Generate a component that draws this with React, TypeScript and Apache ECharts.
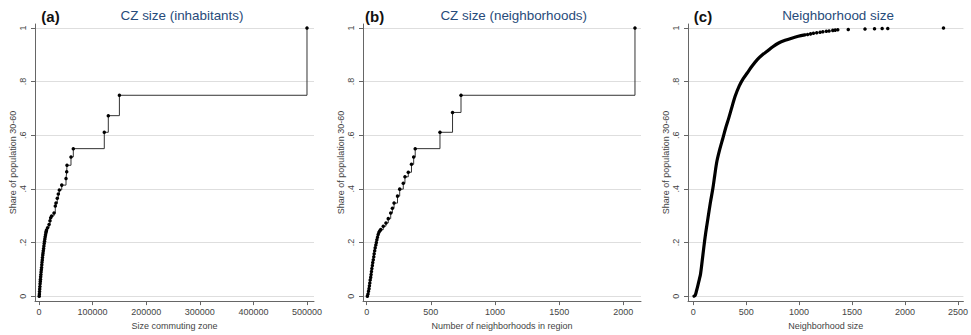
import React, { useEffect, useRef } from 'react';
import * as echarts from 'echarts';

// ---- tick labels ----
const yTicks = [0, 0.2, 0.4, 0.6, 0.8, 1];
const xTicksA = [0, 100000, 200000, 300000, 400000, 500000];
const xTicksB = [0, 500, 1000, 1500, 2000];
const xTicksC = [0, 500, 1000, 1500, 2000, 2500];

// ---- texts ----
const panelTags = ['(a)', '(b)', '(c)'];
const titles = ['CZ size (inhabitants)', 'CZ size (neighborhoods)', 'Neighborhood size'];
const xNames = ['Size commuting zone', 'Number of neighborhoods in region', 'Neighborhood size'];
const yName = 'Share of population 30-60';

// ---- (a) CZ size in inhabitants vs cumulative share ----
const czInhabitants: [number, number][] = [
  [400, 0.0], [700, 0.008], [1000, 0.017], [1300, 0.027], [1700, 0.036], [2000, 0.046],
  [2400, 0.055], [2700, 0.063], [3100, 0.072], [3500, 0.081], [3900, 0.09], [4300, 0.098],
  [4800, 0.107], [5200, 0.117], [5600, 0.126], [6100, 0.135], [6500, 0.144], [7000, 0.153],
  [7500, 0.161], [8000, 0.169], [8600, 0.178], [9100, 0.187], [9700, 0.196], [10300, 0.205],
  [10900, 0.213], [11500, 0.221], [12200, 0.229], [12900, 0.236], [13500, 0.242], [14000, 0.247],
  [16000, 0.255], [18700, 0.267], [20500, 0.281], [21800, 0.292], [23500, 0.299], [28000, 0.31],
  [30400, 0.336], [31700, 0.347], [34100, 0.365], [36000, 0.381], [37900, 0.396], [42400, 0.414],
  [50400, 0.439], [51700, 0.464], [52200, 0.488], [59700, 0.519], [64000, 0.55],
  [121800, 0.611], [129300, 0.673], [150000, 0.749], [500000, 1.0],
];

// ---- (b) CZ size in neighborhoods vs cumulative share ----
const czNeighborhoods: [number, number][] = [
  [5, 0.0], [10, 0.008], [14, 0.018], [18, 0.028], [21, 0.039], [24, 0.049], [27, 0.06],
  [31, 0.07], [34, 0.081], [37, 0.092], [40, 0.103], [44, 0.114], [47, 0.125], [51, 0.136],
  [55, 0.147], [58, 0.158], [62, 0.169], [66, 0.18], [71, 0.191], [75, 0.2], [79, 0.21],
  [84, 0.22], [89, 0.23], [95, 0.238], [102, 0.244], [109, 0.248],
  [129, 0.261], [150, 0.273], [168, 0.289], [187, 0.31], [200, 0.328], [213, 0.347],
  [240, 0.373], [257, 0.399], [285, 0.421], [298, 0.445], [324, 0.462], [349, 0.492],
  [366, 0.519], [378, 0.55], [571, 0.611], [669, 0.685], [735, 0.749], [2091, 1.0],
];

// ---- (c) neighborhood size vs cumulative share ----
const nbhdCurve: [number, number][] = [
  [8, 0.0], [20, 0.004], [32, 0.021], [45, 0.041], [57, 0.061], [69, 0.082], [84, 0.128],
  [100, 0.181], [119, 0.238], [140, 0.292], [162, 0.348], [186, 0.402], [204, 0.452],
  [223, 0.501], [250, 0.546], [279, 0.587], [306, 0.626], [335, 0.663], [362, 0.7],
  [396, 0.745], [434, 0.783], [471, 0.81], [512, 0.833], [558, 0.859], [605, 0.882],
  [651, 0.899], [698, 0.913], [752, 0.93], [807, 0.944], [868, 0.954], [930, 0.962],
  [992, 0.969], [1055, 0.974],
];
const nbhdDots: [number, number][] = [
  [1080, 0.976], [1108, 0.978], [1135, 0.98], [1166, 0.982], [1198, 0.984], [1224, 0.986],
  [1257, 0.988], [1283, 0.989], [1318, 0.991], [1341, 0.992], [1365, 0.993], [1464, 0.994],
  [1622, 0.996], [1712, 0.997], [1784, 0.998], [1837, 0.998], [2363, 1.0],
];

const FONT = '"Liberation Sans", Arial, Helvetica, sans-serif';
const AXIS_COLOR = '#666';
const TEXT_COLOR = '#444';
const TITLE_COLOR = '#274b7a';
const GRID_COLOR = '#dedede';

const grids = [
  { left: 35, top: 24, width: 279, height: 280 },
  { left: 363, top: 24, width: 278, height: 280 },
  { left: 688, top: 24, width: 280, height: 280 },
];
const xRanges: [number, number][] = [[-7463, 513060], [-29, 2138], [-49, 2551]];
const xTickSets = [xTicksA, xTicksB, xTicksC];
const tagX = [50.5, 374.7, 703];
const titleX = [182, 513.7, 838];

const fmtY = (v: number) => {
  if (v === 0) return '0';
  if (v === 1) return '1';
  return String(Math.round(v * 10) / 10).replace(/^0\./, '.');
};

export default function App() {
  const ref = useRef<HTMLDivElement>(null);
  useEffect(() => {
    if (!ref.current) return;
    const chart = echarts.init(ref.current, undefined, { renderer: 'svg' });

    const xAxis = grids.map((_, i) => ({
      type: 'value',
      gridIndex: i,
      min: xRanges[i][0],
      max: xRanges[i][1],
      name: xNames[i],
      nameLocation: 'middle',
      nameGap: 16,
      nameTextStyle: { fontFamily: FONT, fontSize: 9, color: TEXT_COLOR },
      axisLine: { show: true, onZero: false, lineStyle: { color: AXIS_COLOR, width: 1 } },
      axisTick: { show: true, length: 4, customValues: xTickSets[i], lineStyle: { color: AXIS_COLOR } },
      axisLabel: {
        customValues: xTickSets[i],
        formatter: (v: number) => String(v),
        fontFamily: FONT,
        fontSize: 9,
        color: TEXT_COLOR,
        margin: 6,
      },
      splitLine: { show: false },
    }));

    const yAxis = grids.map((_, i) => ({
      type: 'value',
      gridIndex: i,
      min: -0.0185,
      max: 1.0148,
      name: yName,
      nameLocation: 'middle',
      nameGap: 17.5,
      nameTextStyle: { fontFamily: FONT, fontSize: 9, color: TEXT_COLOR },
      axisLine: { show: true, onZero: false, lineStyle: { color: AXIS_COLOR, width: 1 } },
      axisTick: { show: true, length: 4, customValues: yTicks, lineStyle: { color: AXIS_COLOR } },
      axisLabel: {
        customValues: yTicks,
        formatter: fmtY,
        rotate: 90,
        fontFamily: FONT,
        fontSize: 9,
        color: TEXT_COLOR,
        margin: 8,
      },
      splitLine: { show: true, lineStyle: { color: GRID_COLOR, width: 1, type: 'solid', opacity: 1 } },
    }));

    const stepSeries = (i: number, data: [number, number][]) => ({
      type: 'line',
      xAxisIndex: i,
      yAxisIndex: i,
      data,
      step: 'end',
      z: 3,
      symbol: 'circle',
      symbolSize: 3.5,
      showSymbol: true,
      showAllSymbol: true,
      lineStyle: { color: '#333', width: 1 },
      itemStyle: { color: '#000' },
    });

    const option = {
      animation: false,
      backgroundColor: '#fff',
      grid: grids.map((g) => ({ ...g, containLabel: false, show: false })),
      xAxis,
      yAxis,
      series: [
        stepSeries(0, czInhabitants),
        stepSeries(1, czNeighborhoods),
        {
          type: 'line',
          xAxisIndex: 2,
          yAxisIndex: 2,
          data: nbhdCurve,
          smooth: 0.3,
          z: 3,
          showSymbol: false,
          lineStyle: { color: '#000', width: 3.2, cap: 'round', join: 'round' },
        },
        {
          type: 'scatter',
          xAxisIndex: 2,
          yAxisIndex: 2,
          data: nbhdDots,
          z: 3,
          symbol: 'circle',
          symbolSize: 3.5,
          itemStyle: { color: '#000', opacity: 1 },
        },
      ],
      graphic: [
        ...panelTags.map((t, i) => ({
          type: 'text',
          x: tagX[i],
          y: 16,
          style: {
            text: t,
            fontFamily: FONT,
            fontSize: 15,
            fontWeight: 'bold',
            fill: '#111',
            align: 'center',
            verticalAlign: 'middle',
            textAlign: 'center',
            textVerticalAlign: 'middle',
          },
        })),
        ...titles.map((t, i) => ({
          type: 'text',
          x: titleX[i],
          y: 15,
          style: {
            text: t,
            fontFamily: FONT,
            fontSize: 13.4,
            fill: TITLE_COLOR,
            align: 'center',
            verticalAlign: 'middle',
            textAlign: 'center',
            textVerticalAlign: 'middle',
          },
        })),
      ],
    };

    chart.setOption(option as any);
    return () => chart.dispose();
  }, []);

  return (
    <div
      ref={ref}
      style={{ position: 'fixed', left: 0, top: 0, width: 971, height: 335, background: '#fff' }}
    />
  );
}
